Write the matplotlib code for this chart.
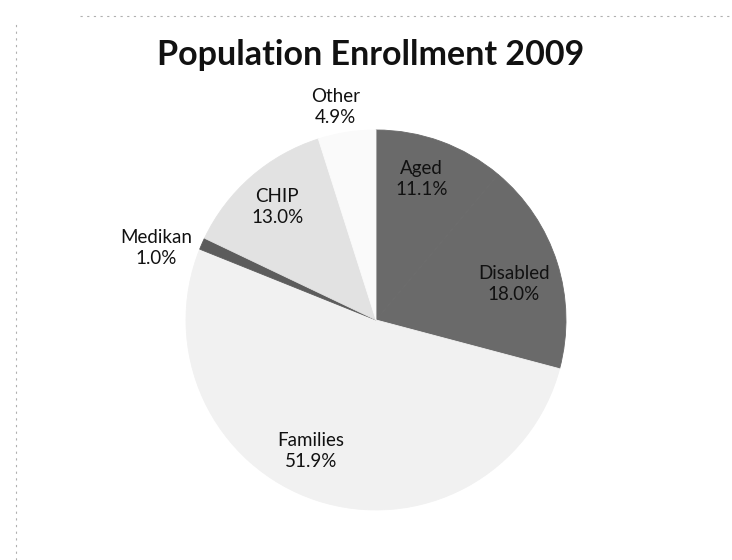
import matplotlib.pyplot as plt
import numpy as np
from matplotlib.lines import Line2D

# dữ liệu
categories = ['Aged', 'Disabled', 'Families', 'Medikan', 'CHIP', 'Other']
shares = [11.1, 18.0, 51.9, 1.0, 13.0, 4.9]
labels_pct = ['11.1%', '18.0%', '51.9%', '1.0%', '13.0%', '4.9%']

# màu xám gần với bản scan
colors = ['#6a6a6a', '#6a6a6a', '#f1f1f1', '#5c5c5c', '#e2e2e2', '#fafafa']
label_dist = [0.78, 0.75, 0.77, 1.22, 0.79, 1.14]
label_shift = [2, -3, -8, 5.5, 0, 2]   # chỉnh góc nhãn (độ) cho giống Excel

plt.rcParams['font.family'] = ['Lato', 'DejaVu Sans']

fig = plt.figure(figsize=(7.32, 5.6), dpi=100)
ax = fig.add_axes([0.2541, 0.0893, 0.5191, 0.6786])

wedges, _ = ax.pie(shares, colors=colors, startangle=90, counterclock=False,
                   wedgeprops=dict(linewidth=0.6))
# viền cùng màu lát để không lộ đường nối giữa Aged và Disabled
for w, c in zip(wedges, colors):
    w.set_edgecolor(c)
ax.set_xlim(-1, 1)
ax.set_ylim(-1, 1)
ax.set_aspect('equal')
ax.axis('off')

# nhãn: tên + phần trăm, đặt theo góc giữa của mỗi lát
for w, name, pct, d, s in zip(wedges, categories, labels_pct, label_dist, label_shift):
    ang = np.deg2rad((w.theta1 + w.theta2) / 2 + s)
    ax.text(d * np.cos(ang), d * np.sin(ang), f'{name}\n{pct}',
            ha='center', va='center', fontsize=13.5, color='#111111',
            linespacing=1.3, clip_on=False)

fig.text(371 / 732, 1 - 55 / 560, 'Population Enrollment 2009',
         ha='center', va='center', fontsize=24.5, fontweight='bold', color='#111111')

# viền chấm mờ của bản scan
fig.add_artist(Line2D([16 / 732, 16 / 732], [0, 1 - 20 / 560], color='#b0b0b0',
                      linewidth=0.8, linestyle=(0, (2, 4))))
fig.add_artist(Line2D([80 / 732, 1], [1 - 16 / 560, 1 - 16 / 560], color='#b0b0b0',
                      linewidth=0.8, linestyle=(0, (2, 4))))

plt.savefig('out.png', dpi=100)
